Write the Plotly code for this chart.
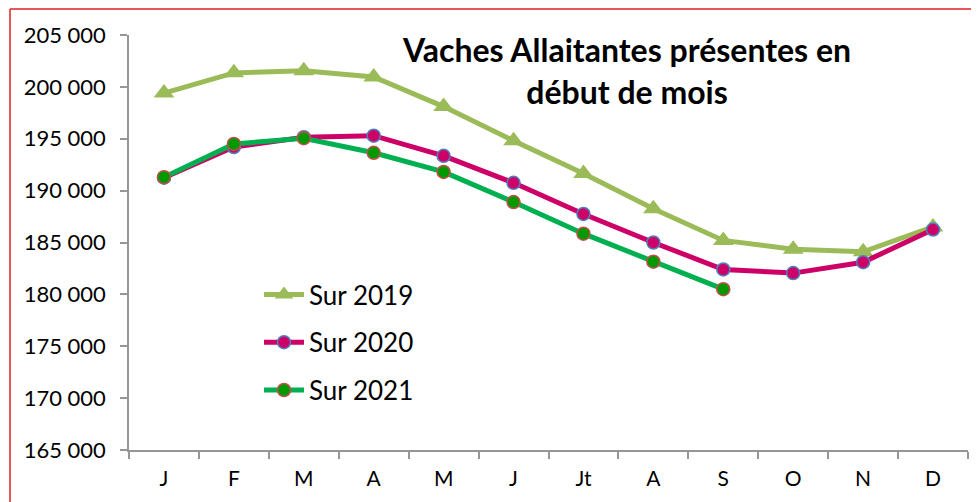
import plotly.graph_objects as go

months = ["J", "F", "M", "A", "M", "J", "Jt", "A", "S", "O", "N", "D"]
cats = [f"{i}" for i in range(12)]
v2019 = [199400, 201350, 201550, 200950, 198100, 194800, 191650, 188250, 185200, 184350, 184100, 186500]
v2020 = [191250, 194200, 195150, 195300, 193350, 190750, 187750, 185000, 182400, 182050, 183100, 186250]
v2021 = [191300, 194500, 195050, 193650, 191800, 188900, 185850, 183150, 180500]
names = ["Sur 2019", "Sur 2020", "Sur 2021"]
yticks = [165000, 170000, 175000, 180000, 185000, 190000, 195000, 200000, 205000]
ytext = ["165 000", "170 000", "175 000", "180 000", "185 000", "190 000", "195 000", "200 000", "205 000"]

OFF = 8  # page body margin
W, H = 979 - OFF, 502 - OFF
L, T = 129 - OFF, 35 - OFF
R = W - (968 - OFF)
B = H - (450 - OFF)
pw, ph = W - L - R, H - T - B

def px(x):
    # page pixel -> paper
    return (x - OFF - L) / pw

def py(y):
    return (H - B - (y - OFF)) / ph

fig = go.Figure()
fig.add_trace(go.Scatter(
    x=cats, y=v2019, name=names[0], mode="lines+markers", legendgroup="a",
    line=dict(color="#9BBB59", width=5),
    marker=dict(symbol="triangle-up", size=18, color="#9BBB59", line=dict(width=0)),
))
fig.add_trace(go.Scatter(
    x=cats, y=v2020, name=names[1], mode="lines+markers", legendgroup="b",
    line=dict(color="#CC0066", width=5),
    marker=dict(symbol="circle", size=13, color="#CC0066", line=dict(color="#4F81BD", width=1.5)),
))
fig.add_trace(go.Scatter(
    x=cats[:len(v2021)], y=v2021, name=names[2], mode="lines+markers", legendgroup="c",
    line=dict(color="#00B050", width=5),
    marker=dict(symbol="circle", size=13, color="#009900", line=dict(color="#C0504D", width=1.5)),
))

fig.update_layout(
    width=W, height=H,
    margin=dict(l=L, r=R, t=T, b=B, autoexpand=False),
    paper_bgcolor="white", plot_bgcolor="white",
    font=dict(family="Lato", size=20, color="black"),
    showlegend=True,
    legend=dict(
        x=px(259), y=py(271), xanchor="left", yanchor="top",
        bgcolor="rgba(0,0,0,0)", traceorder="grouped", tracegroupgap=11,
        font=dict(family="Lato", size=26, color="black"),
        itemwidth=40,
    ),
    xaxis=dict(
        type="category", categoryorder="array", categoryarray=cats,
        tickmode="array", tickvals=cats, ticktext=months,
        range=[-0.5, 11.5], tickson="boundaries",
        showline=True, linecolor="#969696", linewidth=1.5,
        ticks="outside", ticklen=7, tickcolor="#969696", tickwidth=1.5,
        showgrid=False, zeroline=False, automargin=False,
        ticklabelstandoff=9,
        tickfont=dict(family="Lato", size=21, color="black"),
    ),
    yaxis=dict(
        range=[165000, 205000], tickmode="array", tickvals=yticks, ticktext=ytext,
        showline=True, linecolor="#969696", linewidth=1.5,
        ticks="outside", ticklen=7, tickcolor="#969696", tickwidth=1.5,
        showgrid=False, zeroline=False, automargin=False,
        ticklabelstandoff=10,
        tickfont=dict(family="Lato", size=22, color="black"),
    ),
    annotations=[dict(
        text="Vaches Allaitantes présentes en<br>début de mois",
        xref="paper", yref="paper", x=px(626), y=py(28),
        xanchor="center", yanchor="top", showarrow=False, align="center",
        font=dict(family="Lato", size=32, color="black", weight="bold"),
    )],
    shapes=[
        dict(type="line", xref="paper", yref="paper", x0=px(10), x1=px(10), y0=py(9), y1=py(520),
             line=dict(color="#E02020", width=1.5)),
        dict(type="line", xref="paper", yref="paper", x0=px(10), x1=px(1000), y0=py(9), y1=py(9),
             line=dict(color="#E02020", width=1.5)),
    ],
)

fig.write_html("out.html")
